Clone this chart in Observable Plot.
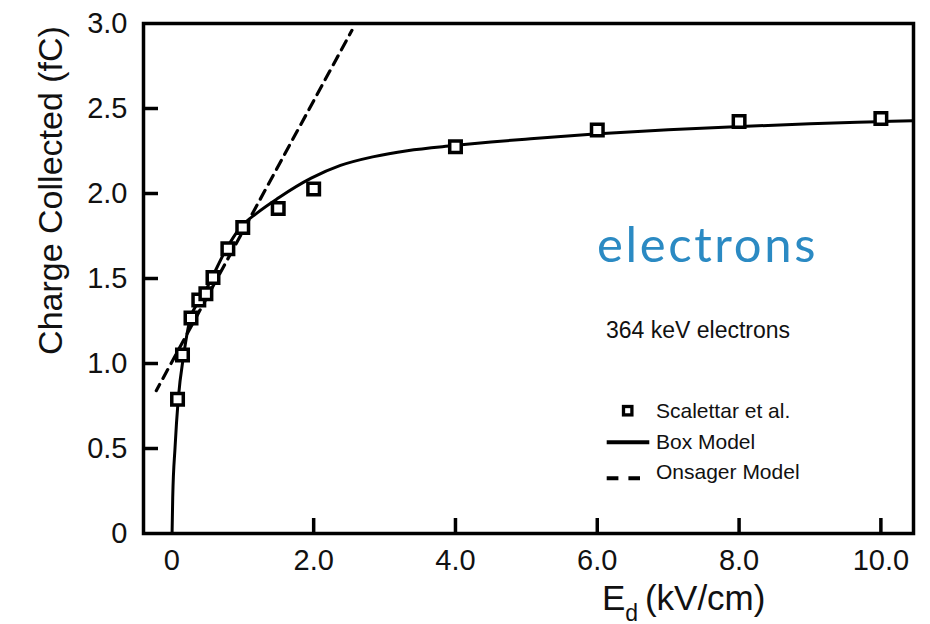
<!DOCTYPE html>
<html><head><meta charset="utf-8">
<script src="https://cdn.jsdelivr.net/npm/d3@7"></script>
<script src="https://cdn.jsdelivr.net/npm/@observablehq/plot@0.6"></script>
<style>html,body{margin:0;padding:0;background:#fff} svg{display:block}</style>
</head><body><div id="chart"></div>
<script>
// Scalettar et al. measurements (E_d in kV/cm, charge in fC)
const dataX = [0.08, 0.15, 0.27, 0.38, 0.48, 0.58, 0.79, 1.0, 1.5, 2.0, 4.0, 6.0, 8.0, 10.0];
const dataY = [0.79, 1.05, 1.267, 1.373, 1.41, 1.506, 1.675, 1.80, 1.912, 2.026, 2.275, 2.373, 2.424, 2.441];
// Box Model curve
const boxX = [0.003, 0.012, 0.045, 0.09, 0.167, 0.26, 0.35, 0.45, 0.567, 0.77, 0.967, 1.2, 1.507, 1.965, 2.378, 2.85, 3.32, 3.97, 4.5, 5.06, 5.96, 7.0, 7.94, 9.0, 9.95, 10.46];
const boxY = [0.0, 0.21, 0.506, 0.79, 1.05, 1.267, 1.345, 1.41, 1.506, 1.675, 1.80, 1.885, 1.975, 2.09, 2.165, 2.217, 2.252, 2.282, 2.303, 2.322, 2.35, 2.375, 2.393, 2.41, 2.422, 2.428];
// Onsager Model line
const onsX = [-0.22, 1.16, 2.54];
const onsY = [0.84, 1.90, 2.96];
// axes
const xTickLabels = [0, 2, 4, 6, 8, 10];
const xTickMarks = [2, 4, 6, 8, 10];
const yTickLabels = [0, 0.5, 1.0, 1.5, 2.0, 2.5, 3.0];
const yTickMarks = [0.5, 1.0, 1.5, 2.0, 2.5];
const fmt = d => d === 0 ? "0" : d.toFixed(1);
const legendItems = ["Scalettar et al.", "Box Model", "Onsager Model"];
const noteText = "364 keV electrons";
const bigText = "electrons";
const yLabel = "Charge Collected (fC)";

const points = dataX.map((x, i) => ({x, y: dataY[i]}));
const box = boxX.map((x, i) => ({x, y: boxY[i]}));
const ons = onsX.map((x, i) => ({x, y: onsY[i]}));

const FONT = "'Liberation Sans', Arial, Helvetica, sans-serif";
const W = 930, H = 624, ML = 143, MR = 17, MT = 23, MB = 91, TICK = 15;
const innerW = W - ML - MR, innerH = H - MT - MB;
const xDomain = [-0.40, 10.46], yDomain = [0, 3.0];
// tick length expressed in data units
const xTickLen = yDomain[0] + (yDomain[1] - yDomain[0]) * TICK / innerH;
const yTickLen = xDomain[0] + (xDomain[1] - xDomain[0]) * TICK / innerW;

const chart = Plot.plot({
  width: W, height: H,
  marginLeft: ML, marginRight: MR, marginTop: MT, marginBottom: MB,
  style: {fontFamily: FONT, fontSize: "29px", color: "#111", background: "#fff", overflow: "visible"},
  x: {domain: xDomain},
  y: {domain: yDomain},
  marks: [
    Plot.line(box, {x: "x", y: "y", stroke: "#000", strokeWidth: 3, curve: "monotone-x", clip: true}),
    Plot.line(ons, {x: "x", y: "y", stroke: "#000", strokeWidth: 3.2, strokeDasharray: "10,7", strokeDashoffset: 3, clip: true}),
    Plot.dot(points, {x: "x", y: "y", symbol: "square", r: 6.5, stroke: "#000", strokeWidth: 3.5, fill: "#fff"}),
    Plot.ruleX(xTickMarks, {x: d => d, y1: yDomain[0], y2: xTickLen, stroke: "#000", strokeWidth: 3.5}),
    Plot.ruleY(yTickMarks, {y: d => d, x1: xDomain[0], x2: yTickLen, stroke: "#000", strokeWidth: 3.5}),
    Plot.frame({stroke: "#000", strokeWidth: 3.5}),
    Plot.axisX(xTickLabels, {tickSize: 0, tickPadding: 16, tickFormat: fmt, label: null, fill: "#111"}),
    Plot.axisY(yTickLabels, {tickSize: 0, tickPadding: 16, tickFormat: fmt, label: null, fill: "#111"})
  ]
});
document.getElementById("chart").appendChild(chart);

const svg = d3.select(chart);
const g = svg.append("g").attr("font-family", FONT).attr("fill", "#111").attr("text-anchor", "start");

// y axis title
g.append("text")
  .attr("transform", "translate(62,190.5) rotate(-90)")
  .attr("text-anchor", "middle")
  .attr("font-size", 34)
  .text(yLabel);

// x axis title with subscript
const xt = g.append("text").attr("x", 602).attr("y", 610).attr("font-size", 35);
xt.append("tspan").text("E");
xt.append("tspan").attr("font-size", 23).attr("dy", 11).text("d");
xt.append("tspan").attr("dy", -11).attr("dx", -3).text(" (kV/cm)");

// annotation
g.append("text").attr("x", 606).attr("y", 338).attr("font-size", 23).text(noteText);

// big blue label
const bt = g.append("text").attr("x", 597).attr("y", 262)
  .attr("font-family", "Lato, 'Open Sans', sans-serif")
  .attr("font-size", 49).attr("fill", "#2b8ac3").text(bigText);
const len = bt.node().getComputedTextLength();
bt.attr("letter-spacing", ((221 - len) / bigText.length).toFixed(2));

// legend
const lg = g.append("g").attr("font-size", 21);
lg.append("rect").attr("x", 623.5).attr("y", 406.5).attr("width", 8.4).attr("height", 8.4)
  .attr("fill", "#fff").attr("stroke", "#000").attr("stroke-width", 3.3);
lg.append("line").attr("x1", 606.7).attr("x2", 649.3).attr("y1", 442.3).attr("y2", 442.3)
  .attr("stroke", "#000").attr("stroke-width", 4);
lg.append("line").attr("x1", 606.7).attr("x2", 640).attr("y1", 478.3).attr("y2", 478.3)
  .attr("stroke", "#000").attr("stroke-width", 4).attr("stroke-dasharray", "11.7,10");
[418, 449, 479].forEach((yy, i) => {
  lg.append("text").attr("x", 656).attr("y", yy).text(legendItems[i]);
});
</script>
</body></html>
